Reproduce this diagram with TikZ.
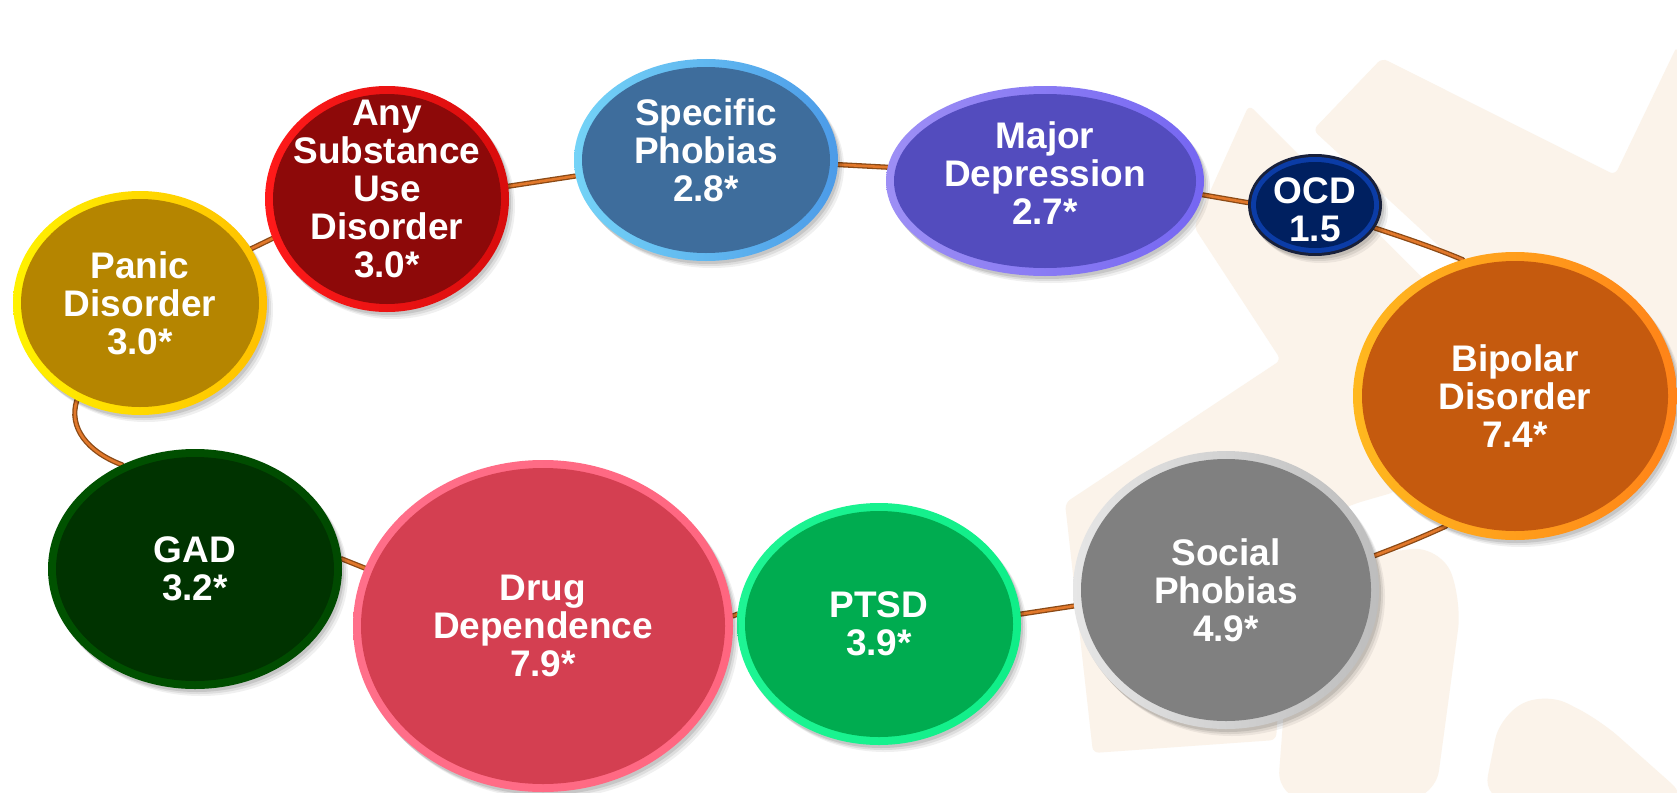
\documentclass[tikz,border=0pt]{standalone}
\usepackage{fontspec}
\setmainfont{Liberation Sans}
\usetikzlibrary{shapes.geometric,shadows}
\pgfdeclarelayer{bgshapes}
\pgfdeclarelayer{wires}
\pgfsetlayers{bgshapes,wires,main}

\definecolor{beige}{HTML}{FBF3EA}
\definecolor{wiredark}{HTML}{8B4A16}
\definecolor{wirelight}{HTML}{E1782B}
\definecolor{pdL}{HTML}{FFF200}\definecolor{pdR}{HTML}{FFC000}\definecolor{pdF}{HTML}{B58500}
\definecolor{asL}{HTML}{FF1A1A}\definecolor{asR}{HTML}{D80C0C}\definecolor{asF}{HTML}{8D0909}
\definecolor{spL}{HTML}{74D3F7}\definecolor{spR}{HTML}{4C9BE8}\definecolor{spF}{HTML}{3E6D9C}
\definecolor{mdL}{HTML}{9D8FF5}\definecolor{mdR}{HTML}{7566F2}\definecolor{mdF}{HTML}{534CBE}
\definecolor{bipL}{HTML}{FFB81F}\definecolor{bipR}{HTML}{FF8318}\definecolor{bipF}{HTML}{C55A0E}
\definecolor{socL}{HTML}{E6E6E6}\definecolor{socR}{HTML}{BDBDBD}\definecolor{socF}{HTML}{808080}
\definecolor{ptL}{HTML}{1EF594}\definecolor{ptR}{HTML}{10EE88}\definecolor{ptF}{HTML}{00AC50}
\definecolor{drL}{HTML}{FF6F8A}\definecolor{drR}{HTML}{FF6680}\definecolor{drF}{HTML}{D43F51}
\definecolor{gadL}{HTML}{005200}\definecolor{gadR}{HTML}{004A00}\definecolor{gadF}{HTML}{003300}
\definecolor{ocdO}{HTML}{18203A}\definecolor{ocdM}{HTML}{0B3CA6}\definecolor{ocdF}{HTML}{002060}

\tikzset{
  bubble/.style 2 args={ellipse, inner sep=0pt, outer sep=0pt, minimum width=#1, minimum height=#2,
    drop shadow={shadow xshift=6pt, shadow yshift=-7pt, opacity=0.06, fill=black},
    drop shadow={shadow xshift=4pt, shadow yshift=-5pt, opacity=0.08, fill=black},
    drop shadow={shadow xshift=2pt, shadow yshift=-3pt, opacity=0.10, fill=black}},
  bubcore/.style 2 args={ellipse, inner sep=0pt, outer sep=0pt, minimum width=#1, minimum height=#2},
  lbl/.style={text=white, font=\bfseries\fontsize{37}{38}\selectfont, align=center, inner sep=0pt},
  wire/.style={draw=wirelight, line width=2.6pt, line cap=round,
    preaction={draw=wiredark, line width=5.2pt, line cap=round}},
  bgpoly/.style={fill=beige, draw=none, rounded corners=6pt}
}

\begin{document}
\begin{tikzpicture}[x=1pt,y=-1pt]
\useasboundingbox (0,0) rectangle (1677,792);

\begin{pgfonlayer}{bgshapes}
  \fill[white] (0,0) rectangle (1677,792);
  \fill[bgpoly] (1249,105) -- (1490,345) -- (1395,492) -- (1357,503) -- (1290,530) -- (1276,740)
     -- (1093,753) -- (1065,503) -- (1281,360) -- (1194,227) -- cycle;
  \fill[bgpoly, rounded corners=30pt] (1295,565) -- (1440,545) -- (1462,600) -- (1435,800) -- (1277,800) -- cycle;
  \fill[bgpoly] (1313,130) -- (1382,58) -- (1615,175) -- (1677,46) -- (1677,420) -- (1530,330) -- cycle;
  \fill[bgpoly, rounded corners=25pt] (1483,800) -- (1500,715) -- (1545,692) -- (1600,720) -- (1690,800) -- cycle;
\end{pgfonlayer}

% Panic Disorder
\node[bubble={254pt}{224pt}, left color=pdL, right color=pdR] (pd) at (140,303) {};
\node[bubcore={238pt}{208pt}, fill=pdF] (pdc) at (pd.center) {};
\node[lbl] (pdt) at (pd.center) {Panic\\Disorder\\3.0*};

% Any Substance Use Disorder
\node[bubble={244pt}{226pt}, left color=asL, right color=asR] (as) at (387,199) {};
\node[bubcore={228pt}{210pt}, fill=asF] (asc) at (as.center) {};
\node[lbl, yshift=10pt] (ast) at (as.center) {Any\\Substance\\Use\\Disorder\\3.0*};

% Specific Phobias
\node[bubble={264pt}{202pt}, left color=spL, right color=spR] (sp) at (706,160) {};
\node[bubcore={248pt}{186pt}, fill=spF] (spc) at (sp.center) {};
\node[lbl, yshift=10pt] (spt) at (sp.center) {Specific\\Phobias\\2.8*};

% Major Depression
\node[bubble={318pt}{190pt}, left color=mdL, right color=mdR] (md) at (1045,181) {};
\node[bubcore={302pt}{174pt}, fill=mdF] (mdc) at (md.center) {};
\node[lbl, yshift=8pt] (mdt) at (md.center) {Major\\Depression\\2.7*};

% OCD
\node[bubble={134pt}{102pt}, fill=ocdO] (ocd) at (1315,205) {};
\node[bubcore={128pt}{96pt}, fill=ocdM] (ocdm) at (ocd.center) {};
\node[bubcore={118pt}{86pt}, fill=ocdF] (ocdc) at (ocd.center) {};
\node[lbl, yshift=-5pt] (ocdt) at (ocd.center) {OCD\\1.5};

% Bipolar Disorder
\node[bubble={324pt}{288pt}, left color=bipL, right color=bipR] (bip) at (1515,396) {};
\node[bubcore={306pt}{270pt}, fill=bipF] (bipc) at (bip.center) {};
\node[lbl] (bipt) at (bip.center) {Bipolar\\Disorder\\7.4*};

% Social Phobias
\node[bubble={306pt}{278pt}, left color=socL, right color=socR] (soc) at (1226,590) {};
\node[bubcore={290pt}{262pt}, fill=socF] (socc) at (soc.center) {};
\node[lbl] (soct) at (soc.center) {Social\\Phobias\\4.9*};

% PTSD
\node[bubble={284pt}{242pt}, left color=ptL, right color=ptR] (pt) at (879,624) {};
\node[bubcore={268pt}{226pt}, fill=ptF] (ptc) at (pt.center) {};
\node[lbl] (ptt) at (pt.center) {PTSD\\3.9*};

% Drug Dependence
\node[bubble={380pt}{332pt}, left color=drL, right color=drR] (dr) at (543,626) {};
\node[bubcore={364pt}{316pt}, fill=drF] (drc) at (dr.center) {};
\node[lbl] (drt) at (dr.center) {Drug\\Dependence\\7.9*};

% GAD
\node[bubble={294pt}{240pt}, left color=gadL, right color=gadR] (gad) at (195,569) {};
\node[bubcore={278pt}{224pt}, fill=gadF] (gadc) at (gad.center) {};
\node[lbl] (gadt) at (gad.center) {GAD\\3.2*};

\begin{pgfonlayer}{wires}
  \draw[wire] (pd.-123.6) .. controls (68,428) and (88,452) .. (gad.125);
  \draw[wire] (pd.26) -- (as.199);
  \draw[wire] (as.6) -- (sp.187);
  \draw[wire] (sp.-2.6) -- (md.175);
  \draw[wire] (md.-5) -- (ocd.178);
  \draw[wire] (ocd.-21.5) .. controls (1405,238) and (1435,248) .. (bip.111.7);
  \draw[wire] (bip.-118.3) .. controls (1420,538) and (1400,546) .. (soc.13.5);
  \draw[wire] (soc.186.4) -- (pt.4);
  \draw[wire] (pt.176.3) -- (dr.3.3);
  \draw[wire] (dr.162) -- (gad.4.3);
\end{pgfonlayer}
\end{tikzpicture}
\end{document}
